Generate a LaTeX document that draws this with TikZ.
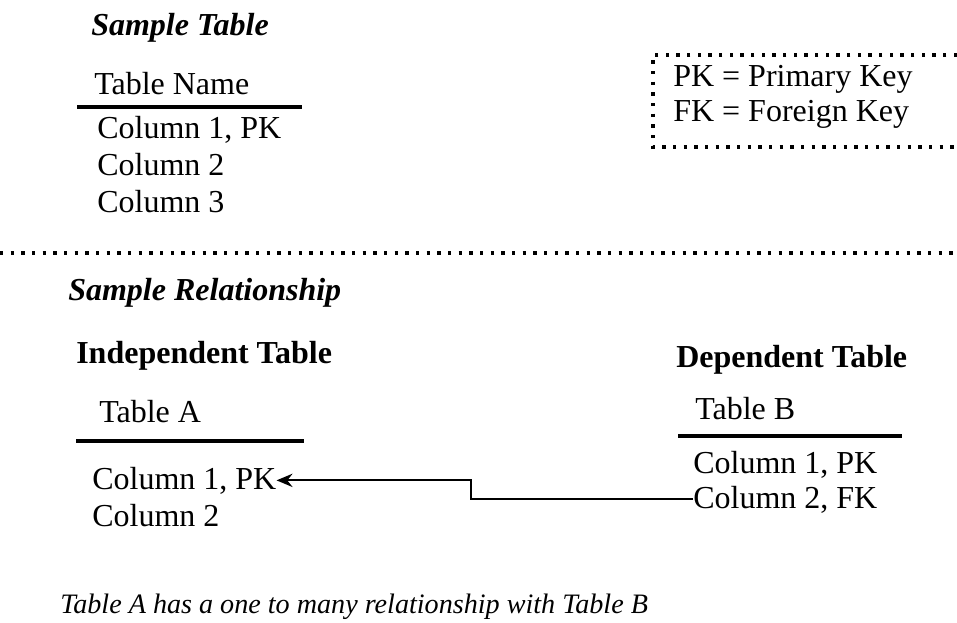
\documentclass[tikz,border=0pt]{standalone}
\usepackage{fontspec}
\setmainfont{Liberation Serif}
\usetikzlibrary{arrows.meta}

\begin{document}
\begin{tikzpicture}[x=0.75pt,y=-0.75pt,
    txt/.style={anchor=base west,inner sep=0pt,font=\fontsize{24}{28}\selectfont},
    headtxt/.style={txt,font=\fontsize{24}{28}\selectfont\bfseries\itshape},
    titletxt/.style={txt,font=\fontsize{24}{28}\selectfont\bfseries},
    rule/.style={line width=3pt},
    dots/.style={line width=2.4pt,dash pattern=on 2.4pt off 5.6pt},
    fkarrow/.style={line width=1.6pt,-{Stealth[length=12pt,width=10pt,inset=4pt]}}]
    \useasboundingbox (0,0) rectangle (957,622);
    % sample table and legend
    \node[headtxt] (samptab) at (91,35) {Sample Table};
    \node[txt] (tabname) at (94,94) {Table Name};
    \draw[rule] (77,107) -- (302,107);
    \foreach \i/\t in {1/{Column 1, PK},2/Column 2,3/Column 3}
      \node[txt] (col\i) at (97,101+37*\i) {\t};
    \draw[dots] (957,55) -- (653,55) -- (653,147) -- (957,147);
    \node[txt] (pkkey) at (673,86) {PK = Primary Key};
    \node[txt] (fkkey) at (673,121) {FK = Foreign Key};
    \draw[dots] (0,253) -- (957,253);
    % sample relationship
    \node[headtxt] (samprel) at (68,300) {Sample Relationship};
    \node[titletxt] (indep) at (76,363) {Independent Table};
    \node[txt] (taba) at (99,422) {Table A};
    \draw[rule] (76,441) -- (304,441);
    \node[txt] (acol1) at (92,489) {Column 1, PK};
    \node[txt] (acol2) at (92,526) {Column 2};
    \node[titletxt] (dep) at (676,367) {Dependent Table};
    \node[txt] (tabb) at (695,419) {Table B};
    \draw[rule] (678,436) -- (902,436);
    \node[txt] (bcol1) at (693,473) {Column 1, PK};
    \node[txt] (bcol2) at (693,508) {Column 2, FK};
    \draw[fkarrow] (bcol2.west) -- ++(-222,0) |- (acol1.east);
    \node[txt,font=\fontsize{21.1}{24}\selectfont\itshape]
      (caption) at (60,613) {Table A has a one to many relationship with Table B};
\end{tikzpicture}
\end{document}
